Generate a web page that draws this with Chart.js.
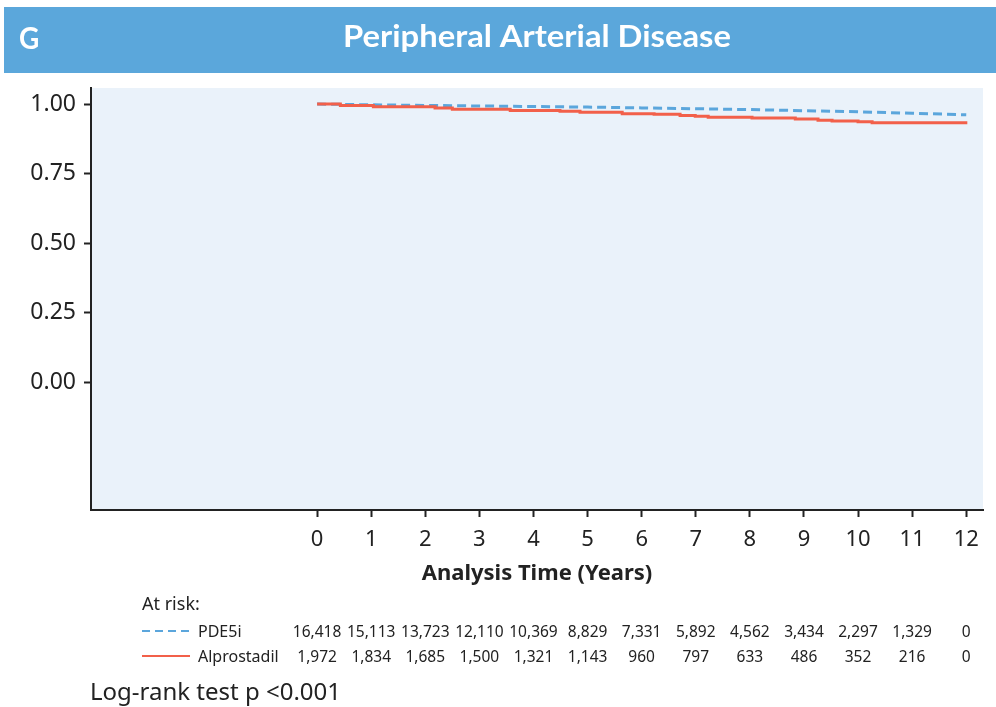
<!DOCTYPE html>
<html>
<head>
<meta charset="utf-8">
<script src="https://cdn.jsdelivr.net/npm/chart.js@4.4.0/dist/chart.umd.min.js"></script>
<style>
  html, body { margin: 0; padding: 0; background: #fff; }
  #wrap { width: 996px; height: 707px; position: relative; }
</style>
</head>
<body>
<div id="wrap"><canvas id="km"></canvas></div>
<script>
// Kaplan-Meier curves
const alproTimes = [0, 0.43, 1.04, 2.18, 2.50, 3.57, 4.49, 4.86, 5.64, 6.23, 6.71, 6.99, 7.23, 8.04, 8.84, 9.26, 9.52, 10.0, 10.26, 12.02];
const alproSurv  = [1.0, 0.995, 0.990, 0.986, 0.981, 0.977, 0.974, 0.970, 0.965, 0.963, 0.959, 0.956, 0.952, 0.950, 0.946, 0.942, 0.939, 0.936, 0.933, 0.933];

const pdeTimes = [0, 1, 2, 3, 4, 5, 6, 7, 8, 9, 10, 11, 12];
const pdeSurv  = [1.0, 0.997, 0.995, 0.993, 0.991, 0.989, 0.986, 0.983, 0.980, 0.976, 0.972, 0.967, 0.961];

// number at risk table
const years = [0, 1, 2, 3, 4, 5, 6, 7, 8, 9, 10, 11, 12];
const riskPde5i = ["16,418", "15,113", "13,723", "12,110", "10,369", "8,829", "7,331", "5,892", "4,562", "3,434", "2,297", "1,329", "0"];
const riskAlpro = ["1,972", "1,834", "1,685", "1,500", "1,321", "1,143", "960", "797", "633", "486", "352", "216", "0"];
const yTicks = [0, 0.25, 0.5, 0.75, 1];

const blue = "#5ba6dc";
const red = "#f2604a";
const font = "'Noto Sans'";

function pts(xs, ys) {
  return xs.map((x, i) => ({ x: x, y: ys[i] }));
}

const extras = {
  id: "extras",
  beforeDraw(chart) {
    const ctx = chart.ctx;
    const a = chart.chartArea;
    ctx.save();
    ctx.fillStyle = "#eaf2fa";
    ctx.fillRect(a.left, a.top, a.right - a.left, a.bottom - a.top);
    ctx.restore();
  },
  afterDraw(chart) {
    const ctx = chart.ctx;
    const xs = chart.scales.x;
    ctx.save();
    // header band
    ctx.fillStyle = "#5ba7db";
    ctx.fillRect(4, 7, 992, 66);
    ctx.fillStyle = "#fff";
    ctx.textBaseline = "alphabetic";
    ctx.font = "bold 28px Lato";
    ctx.textAlign = "left";
    ctx.save();
    ctx.translate(19, 49);
    ctx.scale(1.0, 1.12);
    ctx.fillText("G", 0, 0);
    ctx.restore();
    ctx.textAlign = "center";
    ctx.save();
    ctx.translate(537, 47);
    ctx.scale(1.17, 1.08);
    ctx.fillText("Peripheral Arterial Disease", 0, 0);
    ctx.restore();

    // x axis title
    ctx.fillStyle = "#222";
    ctx.font = "bold 22px " + font;
    ctx.fillText("Analysis Time (Years)", 537, 580);

    // at risk
    ctx.textAlign = "left";
    ctx.font = "18px " + font;
    ctx.fillText("At risk:", 142, 610);
    ctx.font = "16px " + font;
    ctx.fillText("PDE5i", 198, 637);
    ctx.fillText("Alprostadil", 198, 662);

    ctx.lineWidth = 2;
    ctx.strokeStyle = blue;
    ctx.setLineDash([8, 5]);
    ctx.beginPath(); ctx.moveTo(142, 631); ctx.lineTo(190, 631); ctx.stroke();
    ctx.setLineDash([]);
    ctx.strokeStyle = red;
    ctx.beginPath(); ctx.moveTo(142, 656); ctx.lineTo(190, 656); ctx.stroke();

    ctx.fillStyle = "#222";
    ctx.textAlign = "center";
    ctx.font = "15.5px " + font;
    years.forEach((yr, i) => {
      const px = xs.getPixelForValue(yr);
      ctx.fillText(riskPde5i[i], px, 637);
      ctx.fillText(riskAlpro[i], px, 662);
    });

    ctx.textAlign = "left";
    ctx.font = "24px " + font;
    ctx.fillText("Log-rank test p <0.001", 90, 700);
    ctx.restore();
  }
};

new Chart(document.getElementById("km"), {
  type: "line",
  data: {
    datasets: [
      {
        label: "PDE5i",
        data: pts(pdeTimes, pdeSurv),
        borderColor: blue,
        borderWidth: 3,
        borderDash: [9, 5],
        pointRadius: 0,
        fill: false,
        order: 2
      },
      {
        label: "Alprostadil",
        data: pts(alproTimes, alproSurv),
        borderColor: red,
        borderWidth: 3,
        stepped: true,
        pointRadius: 0,
        fill: false,
        order: 1
      }
    ]
  },
  options: {
    responsive: true,
    maintainAspectRatio: false,
    animation: false,
    layout: { padding: { top: 88, right: 13, left: 0, bottom: 0 } },
    plugins: { legend: { display: false }, tooltip: { enabled: false }, title: { display: false } },
    scales: {
      x: {
        type: "linear",
        min: -4.18,
        max: 12.31,
        afterBuildTicks(s) { s.ticks = years.map(v => ({ value: v })); },
        afterFit(s) { s.height = 197; },
        grid: { drawOnChartArea: false, tickLength: 7, color: "#222", tickWidth: 2 },
        border: { color: "#222", width: 2 },
        ticks: { color: "#222", padding: 10, font: { family: font, size: 22 }, maxRotation: 0 }
      },
      y: {
        type: "linear",
        min: -0.46,
        max: 1.0576,
        afterBuildTicks(s) { s.ticks = yTicks.map(v => ({ value: v })); },
        afterFit(s) { s.width = 91; },
        grid: { drawOnChartArea: false, tickLength: 7, color: "#222", tickWidth: 2 },
        border: { color: "#222", width: 2 },
        ticks: {
          color: "#222", padding: 8, font: { family: font, size: 23 },
          callback: v => v.toFixed(2)
        }
      }
    }
  },
  plugins: [extras]
});
</script>
</body>
</html>
